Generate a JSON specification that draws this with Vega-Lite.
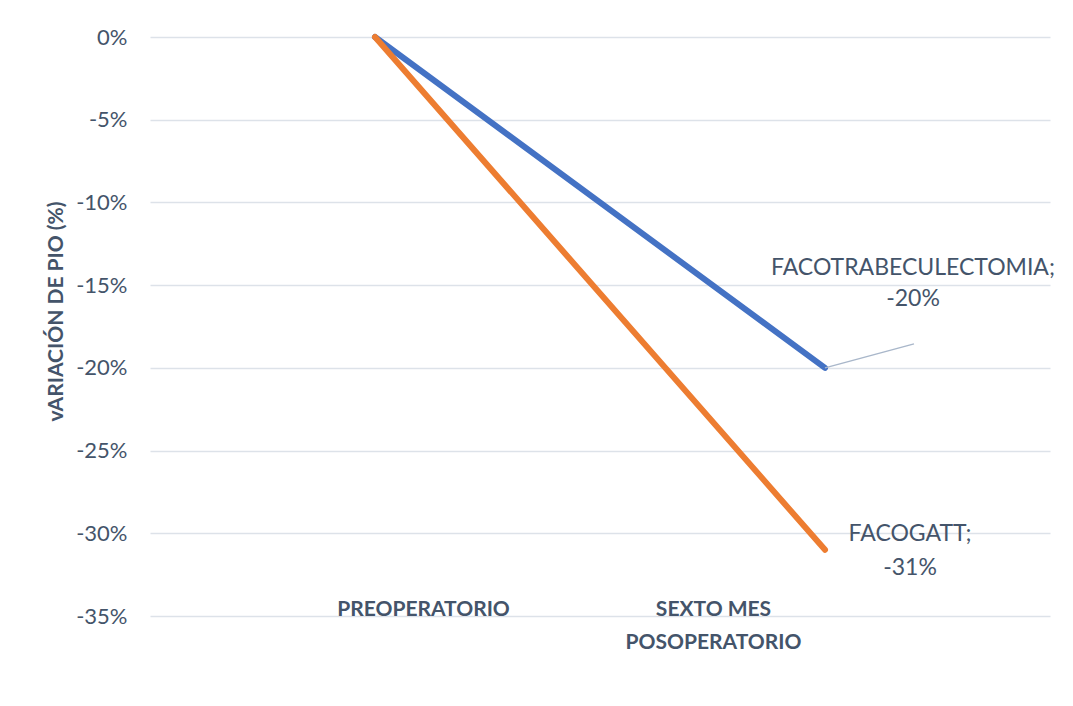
{
  "$schema": "https://vega.github.io/schema/vega-lite/v6.json",
  "width": 900,
  "height": 579,
  "autosize": {"type": "none"},
  "padding": {"left": 150, "top": 37, "right": 23, "bottom": 90},
  "background": "white",
  "config": {
    "view": {"stroke": null},
    "font": "Lato",
    "axis": {"labelColor": "#44546A", "titleColor": "#44546A"}
  },
  "data": {
    "values": [
      {"momento": "PREOPERATORIO", "serie": "FACOTRABECULECTOMIA", "variacion": 0},
      {"momento": "SEXTO MES POSOPERATORIO", "serie": "FACOTRABECULECTOMIA", "variacion": -0.20},
      {"momento": "PREOPERATORIO", "serie": "FACOGATT", "variacion": 0},
      {"momento": "SEXTO MES POSOPERATORIO", "serie": "FACOGATT", "variacion": -0.31}
    ]
  },
  "encoding": {
    "x": {
      "field": "momento",
      "type": "nominal",
      "sort": ["PREOPERATORIO", "SEXTO MES POSOPERATORIO"],
      "scale": {"type": "point", "padding": 0.5},
      "axis": {
        "title": null,
        "labelAngle": 0,
        "domain": false,
        "ticks": false,
        "tickSize": 0,
        "labelFont": "Lato",
        "labelFontSize": 21,
        "labelFontWeight": "bold",
        "labelBaseline": "alphabetic",
        "labelPadding": -1,
        "labelLineHeight": 33,
        "labelOffset": {"expr": "datum.value == 'PREOPERATORIO' ? 48 : -112"},
        "labelExpr": "datum.value == 'SEXTO MES POSOPERATORIO' ? ['SEXTO MES', 'POSOPERATORIO'] : datum.label"
      }
    },
    "y": {
      "field": "variacion",
      "type": "quantitative",
      "scale": {"domain": [-0.35, 0], "nice": false, "zero": false},
      "axis": {
        "title": "vARIACIÓN DE PIO (%)",
        "titleFont": "Lato",
        "titleFontSize": 21,
        "titleFontWeight": "bold",
        "titleAngle": 270,
        "titleX": -94,
        "titleY": 274,
        "titleAlign": "center",
        "titleBaseline": "middle",
        "values": [0, -0.05, -0.1, -0.15, -0.2, -0.25, -0.3, -0.35],
        "format": ".0%",
        "labelExpr": "replace(datum.label, '\u2212', '-')",
        "labelFont": "Lato",
        "labelFontSize": 22,
        "labelPadding": 23,
        "domain": false,
        "ticks": false,
        "tickSize": 0,
        "grid": true,
        "gridColor": "#dde2e9",
        "gridWidth": 1.5
      }
    }
  },
  "layer": [
    {
      "mark": {"type": "line", "strokeWidth": 6, "strokeCap": "round", "strokeJoin": "round"},
      "encoding": {
        "color": {
          "field": "serie",
          "type": "nominal",
          "scale": {"domain": ["FACOTRABECULECTOMIA", "FACOGATT"], "range": ["#4472C4", "#ED7D31"]},
          "legend": null
        }
      }
    },
    {
      "transform": [
        {"filter": "datum.serie == 'FACOTRABECULECTOMIA' && datum.momento == 'SEXTO MES POSOPERATORIO'"}
      ],
      "mark": {"type": "rule", "color": "#a9b7ca", "strokeWidth": 1.5, "x2Offset": 89, "y2Offset": -24},
      "encoding": {
        "x2": {"field": "momento"},
        "y2": {"field": "variacion"}
      }
    },
    {
      "transform": [
        {"filter": "datum.serie == 'FACOTRABECULECTOMIA' && datum.momento == 'SEXTO MES POSOPERATORIO'"},
        {"calculate": "[datum.serie + ';', replace(format(datum.variacion, '.0%'), '\u2212', '-')]", "as": "etiqueta"}
      ],
      "mark": {"type": "text", "font": "Lato", "fontSize": 23, "color": "#44546A", "align": "center", "baseline": "middle", "lineHeight": 31, "dx": 88, "dy": -100},
      "encoding": {"text": {"field": "etiqueta"}}
    },
    {
      "transform": [
        {"filter": "datum.serie == 'FACOGATT' && datum.momento == 'SEXTO MES POSOPERATORIO'"},
        {"calculate": "[datum.serie + ';', replace(format(datum.variacion, '.0%'), '\u2212', '-')]", "as": "etiqueta"}
      ],
      "mark": {"type": "text", "font": "Lato", "fontSize": 23, "color": "#44546A", "align": "center", "baseline": "middle", "lineHeight": 34, "dx": 85, "dy": -16},
      "encoding": {"text": {"field": "etiqueta"}}
    }
  ]
}
